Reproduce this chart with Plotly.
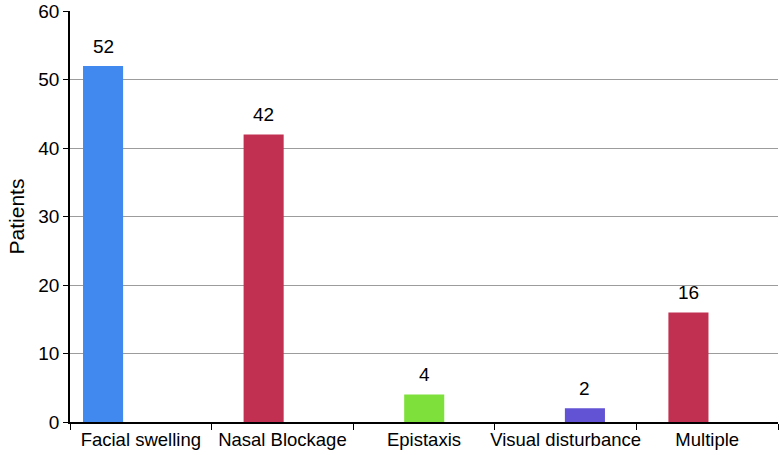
import plotly.graph_objects as go

categories = ["Facial swelling", "Nasal Blockage", "Epistaxis", "Visual disturbance", "Multiple"]
facial = [52, None, None, None, None]
nasal_multiple = [None, 42, None, None, 16]
epistaxis = [None, None, 4, None, None]
visual = [None, None, None, 2, None]

bar_w = 0.283
series = [
    (facial, "#4189EE", -0.408),
    (nasal_multiple, "#C13050", -0.274),
    (epistaxis, "#7EE03A", -0.14),
    (visual, "#6252D4", -0.005),
]

fig = go.Figure()
for vals, color, off in series:
    fig.add_trace(go.Bar(
        x=categories, y=vals,
        marker=dict(color=color, line=dict(width=0)),
        width=bar_w, offset=off,
        showlegend=False,
    ))
    # value labels above each bar
    for i, v in enumerate(vals):
        if v is None:
            continue
        fig.add_annotation(
            x=i + off + bar_w / 2, y=v, text=str(v),
            showarrow=False, yanchor="middle", yshift=20,
            font=dict(size=19, color="black"),
        )

fig.update_layout(
    width=780, height=455,
    margin=dict(l=70, r=2, t=11, b=33),
    barmode="overlay",
    plot_bgcolor="white", paper_bgcolor="white",
    font=dict(family="Liberation Sans, Arial, sans-serif", size=18, color="black"),
)
fig.update_xaxes(
    type="category", range=[-0.5, 4.5], automargin=False,
    showline=True, linecolor="black", linewidth=1.5,
    ticks="outside", tickson="boundaries", ticklen=6, tickcolor="black",
    showgrid=False, tickfont=dict(size=18.5), tickangle=0,
)
# tiny headroom so the gridline at 60 is still drawn
fig.update_yaxes(
    range=[0, 60.05], dtick=10, automargin=False,
    showline=True, linecolor="black", linewidth=1.5,
    ticks="outside", ticklen=5, tickcolor="black",
    showgrid=True, gridcolor="#9c9c9c", gridwidth=1,
    zeroline=False, tickfont=dict(size=19),
    title=dict(text="Patients", font=dict(size=21), standoff=8),
)

# drop the page's default body margin so the figure sits at the window corner
fig.write_html("out.html", config={"displayModeBar": False},
               post_script="document.body.style.margin='0';")
